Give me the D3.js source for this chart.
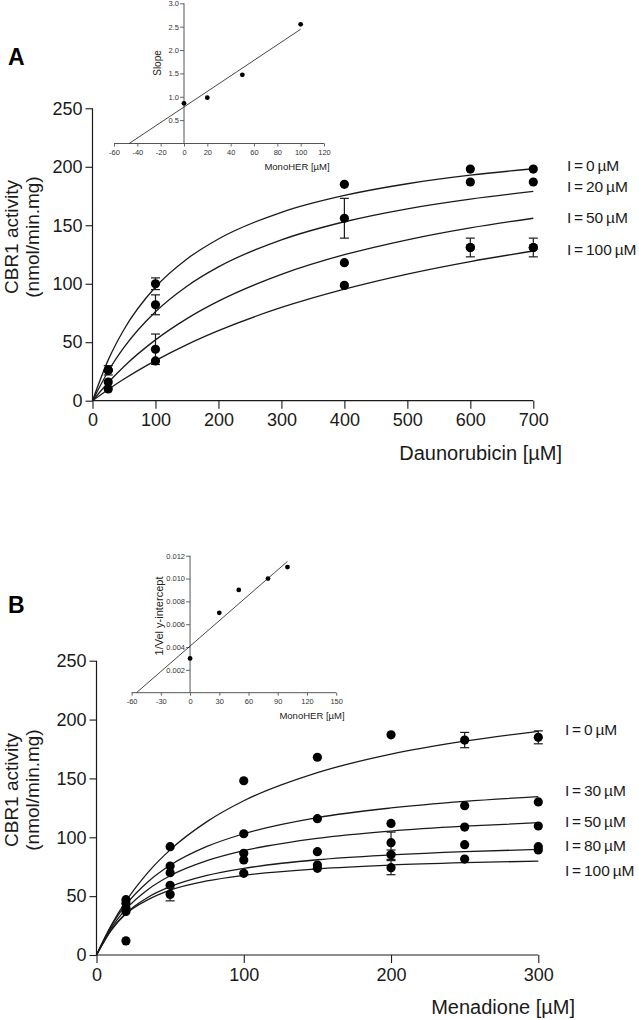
<!DOCTYPE html>
<html>
<head>
<meta charset="utf-8">
<script src="https://cdn.jsdelivr.net/npm/d3@7"></script>
<style>
  html, body { margin: 0; padding: 0; background: #fff; }
  svg { display: block; font-family: "Liberation Sans", Arial, sans-serif; }
</style>
</head>
<body>
<svg id="chart" width="639" height="1020"></svg>
<script>
// ---------------- Panel A data (Daunorubicin) ----------------
const aConc = [25, 100, 400, 600, 700];
const aLabels = ["I = 0 \u00b5M", "I = 20 \u00b5M", "I = 50 \u00b5M", "I = 100 \u00b5M"];
const aI0   = [26, 100, 185, 198, 198];
const aI20  = [26, 82, 156, 187, 187];
const aI50  = [16, 44, 118, 131, 131];
const aI100 = [10, 34, 98.6, 131, 131];
const aErrI0   = [4, 5, 0, 0, 0];
const aErrI20  = [0, 8.5, 17, 0, 0];
const aErrI50  = [0, 13, 0, 0, 0];
const aErrI100 = [0, 0, 0, 8, 8];
// fitted curves
const aCurveX    = [0, 25, 50, 100, 150, 200, 300, 400, 500, 600, 700];
const aCurveI0   = [0, 34.9, 60.9, 97.2, 121.2, 138.3, 161.1, 175.5, 185.5, 192.8, 198.3];
const aCurveI20  = [0, 25.2, 45.5, 76.0, 97.9, 114.4, 137.5, 153.0, 164.1, 172.4, 178.9];
const aCurveI50  = [0, 15.6, 29.3, 52.0, 70.2, 85.1, 108.0, 124.8, 137.6, 147.8, 156.0];
const aCurveI100 = [0, 9.6, 18.5, 34.3, 48.0, 59.9, 79.7, 95.4, 108.3, 119.0, 128.0];
const aXTicks = [0, 100, 200, 300, 400, 500, 600, 700];
const aYTicks = [0, 50, 100, 150, 200, 250];

// Inset A
const inAX = [0, 20, 50, 100];
const inAY = [0.86, 0.98, 1.47, 2.55];
const inAFitX = [-47, 100];
const inAFitY = [0, 2.445];
const inAXTicks = [-60, -40, -20, 0, 20, 40, 60, 80, 100, 120];
const inAYTicks = [0.5, 1.0, 1.5, 2.0, 2.5, 3.0];

// ---------------- Panel B data (Menadione) ----------------
const bConc = [20, 50, 100, 150, 200, 250, 300];
const bLabels = ["I = 0 \u00b5M", "I = 30 \u00b5M", "I = 50 \u00b5M", "I = 80 \u00b5M", "I = 100 \u00b5M"];
const bI0   = [47, 92, 148, 168, 187, 182.6, 184.9];
const bI30  = [44, 75.6, 103, 115.8, 111.8, 126.8, 130];
const bI50  = [40, 69.9, 86.4, 87.8, 95.4, 108.7, 109.6];
const bI80  = [37, 59.2, 80.7, 76.4, 85.2, 93.7, 92];
const bI100 = [12, 51.5, 69.4, 73.6, 74.2, 81.5, 89.2];
const bErrI0   = [0, 0, 0, 0, 0, 6.5, 5.5];
const bErrI30  = [0, 0, 0, 0, 0, 0, 0];
const bErrI50  = [0, 0, 0, 0, 9, 0, 0];
const bErrI80  = [0, 0, 0, 0, 4, 0, 0];
const bErrI100 = [0, 5.5, 0, 0, 6, 0, 0];
const bCurveX    = [0, 10, 20, 35, 50, 75, 100, 150, 200, 250, 300];
const bCurveI0   = [0, 25.2, 45.7, 70.2, 89.3, 113.3, 131.0, 154.9, 170.6, 181.6, 190.0];
const bCurveI30  = [0, 24.7, 42.8, 62.3, 76.2, 92.2, 103.0, 116.7, 124.9, 130.5, 134.5];
const bCurveI50  = [0, 23.0, 39.0, 55.7, 67.3, 80.1, 88.6, 99.1, 105.3, 109.4, 112.4];
const bCurveI80  = [0, 21.5, 35.5, 49.1, 58.0, 67.6, 73.6, 80.9, 85.0, 87.8, 89.7];
const bCurveI100 = [0, 21.0, 35.0, 47.0, 55.1, 62.9, 67.7, 73.2, 76.4, 78.4, 79.8];
const bXTicks = [0, 100, 200, 300];
const bYTicks = [0, 50, 100, 150, 200, 250];

// Inset B
const inBX = [0, 30, 50, 80, 100];
const inBY = [0.003, 0.007, 0.009, 0.010, 0.011];
const inBFitX = [-55, 100];
const inBFitY = [0, 0.0115];
const inBXTicks = [-60, -30, 0, 30, 60, 90, 120, 150];
const inBYTicks = [0.002, 0.004, 0.006, 0.008, 0.010, 0.012];

// ---------------- drawing ----------------
const svg = d3.select("#chart");
const INK = "#1a1a1a";
const plain = d => String(d);

function mainPanel(cfg) {
  const x = d3.scaleLinear().domain(cfg.xDomain).range(cfg.xRange);
  const y = d3.scaleLinear().domain(cfg.yDomain).range(cfg.yRange);
  const g = svg.append("g");

  const xAxis = g.append("g").attr("transform", `translate(0,${cfg.yRange[0]})`)
    .call(d3.axisBottom(x).tickValues(cfg.xTicks).tickSize(8).tickPadding(5).tickFormat(plain));
  const yAxis = g.append("g").attr("transform", `translate(${cfg.xRange[0]},0)`)
    .call(d3.axisLeft(y).tickValues(cfg.yTicks).tickSize(7).tickPadding(3).tickFormat(plain));
  [xAxis, yAxis].forEach(a => {
    a.select(".domain").attr("stroke", INK).attr("stroke-width", 1.2);
    a.selectAll(".tick line").attr("stroke", INK).attr("stroke-width", 1.1);
    a.selectAll(".tick text").attr("fill", INK).attr("font-size", 18)
      .attr("font-family", "Liberation Sans, Arial, sans-serif");
  });
  xAxis.select(".domain").attr("d", `M${cfg.xRange[0]},0H${cfg.xRange[1]}`);
  yAxis.select(".domain").attr("d", `M0,${cfg.yRange[0]}V${cfg.yRange[1]}`);

  const line = d3.line().x(d => x(d[0])).y(d => y(d[1])).curve(d3.curveMonotoneX);
  cfg.curves.forEach(c => {
    g.append("path").datum(cfg.curveX.map((v, i) => [v, c[i]]))
      .attr("d", line).attr("fill", "none").attr("stroke", INK).attr("stroke-width", 1.3);
  });

  cfg.series.forEach((s, si) => {
    const err = cfg.errors[si];
    const pts = cfg.conc.map((c, i) => ({ c, v: s[i], e: err[i] }));
    const eb = g.append("g").selectAll("g").data(pts.filter(p => p.e > 0)).join("g")
      .attr("stroke", INK).attr("stroke-width", 1.2);
    eb.append("line").attr("x1", p => x(p.c)).attr("x2", p => x(p.c))
      .attr("y1", p => y(p.v - p.e)).attr("y2", p => y(p.v + p.e));
    eb.append("line").attr("x1", p => x(p.c) - 4.5).attr("x2", p => x(p.c) + 4.5)
      .attr("y1", p => y(p.v + p.e)).attr("y2", p => y(p.v + p.e));
    eb.append("line").attr("x1", p => x(p.c) - 4.5).attr("x2", p => x(p.c) + 4.5)
      .attr("y1", p => y(p.v - p.e)).attr("y2", p => y(p.v - p.e));
    g.append("g").selectAll("circle").data(pts).join("circle")
      .attr("cx", p => x(p.c)).attr("cy", p => y(p.v)).attr("r", 4.6).attr("fill", "#000");
  });

  g.append("g").selectAll("text").data(cfg.labels).join("text")
    .attr("x", cfg.legendX).attr("y", (d, i) => cfg.legendY[i])
    .attr("dy", "0.35em").attr("font-size", 15.5).attr("word-spacing", -1.5)
    .attr("fill", INK).text(d => d);

  g.append("text").attr("x", cfg.xTitlePos[0]).attr("y", cfg.xTitlePos[1])
    .attr("text-anchor", "end").attr("font-size", 20).attr("fill", INK).text(cfg.xTitle);
  const yl = g.append("text").attr("transform", `translate(0,${cfg.yTitleY}) rotate(-90)`)
    .attr("text-anchor", "middle").attr("font-size", 19).attr("fill", INK);
  yl.append("tspan").attr("x", 0).attr("y", 18).text("CBR1 activity");
  yl.append("tspan").attr("x", 0).attr("y", 39).text("(nmol/min.mg)");

  g.append("text").attr("x", 8).attr("y", cfg.letterY).attr("font-size", 23)
    .attr("font-weight", "bold").attr("fill", "#000").text(cfg.letter);
}

function inset(cfg) {
  const x = d3.scaleLinear().domain(cfg.xDomain).range(cfg.xRange);
  const y = d3.scaleLinear().domain(cfg.yDomain).range(cfg.yRange);
  const g = svg.append("g");
  const xAxis = g.append("g").attr("transform", `translate(0,${cfg.yRange[0]})`)
    .call(d3.axisBottom(x).tickValues(cfg.xTicks).tickSize(3).tickPadding(3).tickFormat(plain));
  const yAxis = g.append("g").attr("transform", `translate(${x(0)},0)`)
    .call(d3.axisLeft(y).tickValues(cfg.yTicks).tickSize(4).tickPadding(1).tickFormat(cfg.yFmt));
  [xAxis, yAxis].forEach(a => {
    a.select(".domain").attr("stroke", "#555").attr("stroke-width", 1);
    a.selectAll(".tick line").attr("stroke", "#555").attr("stroke-width", 0.9);
    a.selectAll(".tick text").attr("fill", "#333").attr("font-size", 7.5)
      .attr("font-family", "Liberation Sans, Arial, sans-serif");
  });
  xAxis.select(".domain").attr("d", `M${cfg.xRange[0]},0H${cfg.xRange[1]}`);
  yAxis.select(".domain").attr("d", `M0,${cfg.yRange[0]}V${cfg.yRange[1]}`);

  g.append("line").attr("x1", x(cfg.fitX[0])).attr("y1", y(cfg.fitY[0]))
    .attr("x2", x(cfg.fitX[1])).attr("y2", y(cfg.fitY[1]))
    .attr("stroke", "#333").attr("stroke-width", 0.9);
  g.append("g").selectAll("circle").data(cfg.px.map((v, i) => [v, cfg.py[i]])).join("circle")
    .attr("cx", d => x(d[0])).attr("cy", d => y(d[1])).attr("r", 2.4).attr("fill", "#000");

  g.append("text").attr("x", cfg.xTitlePos[0]).attr("y", cfg.xTitlePos[1])
    .attr("text-anchor", "middle").attr("font-size", 9.5).attr("fill", "#222").text("MonoHER [\u00b5M]");
  g.append("text").attr("transform", `translate(${cfg.yTitlePos[0]},${cfg.yTitlePos[1]}) rotate(-90)`)
    .attr("text-anchor", "middle").attr("font-size", cfg.yTitleSize).attr("fill", "#222").text(cfg.yTitle);
}

mainPanel({
  xDomain: [0, 700], xRange: [92.5, 533.3], yDomain: [0, 250], yRange: [400.7, 108.3],
  xTicks: aXTicks, yTicks: aYTicks, conc: aConc,
  series: [aI0, aI20, aI50, aI100], errors: [aErrI0, aErrI20, aErrI50, aErrI100],
  curveX: aCurveX, curves: [aCurveI0, aCurveI20, aCurveI50, aCurveI100],
  labels: aLabels, legendX: 567, legendY: [166, 187, 218, 250],
  xTitle: "Daunorubicin [\u00b5M]", xTitlePos: [562, 460], yTitleY: 237,
  letter: "A", letterY: 65
});

inset({
  xDomain: [-60, 120], xRange: [114, 324], yDomain: [0, 3], yRange: [143.5, 3.3],
  xTicks: inAXTicks, yTicks: inAYTicks, yFmt: d3.format(".1f"),
  fitX: inAFitX, fitY: inAFitY, px: inAX, py: inAY,
  xTitlePos: [297, 170], yTitlePos: [161, 63], yTitle: "Slope", yTitleSize: 10
});

mainPanel({
  xDomain: [0, 300], xRange: [96.5, 538.3], yDomain: [0, 250], yRange: [955, 660.7],
  xTicks: bXTicks, yTicks: bYTicks, conc: bConc,
  series: [bI0, bI30, bI50, bI80, bI100], errors: [bErrI0, bErrI30, bErrI50, bErrI80, bErrI100],
  curveX: bCurveX, curves: [bCurveI0, bCurveI30, bCurveI50, bCurveI80, bCurveI100],
  labels: bLabels, legendX: 565, legendY: [730, 791, 822, 846, 871],
  xTitle: "Menadione [\u00b5M]", xTitlePos: [575, 1014], yTitleY: 790,
  letter: "B", letterY: 613
});

inset({
  xDomain: [-60, 150], xRange: [131.6, 336.2], yDomain: [0, 0.012], yRange: [692.7, 555.7],
  xTicks: inBXTicks, yTicks: inBYTicks, yFmt: d3.format(".3f"),
  fitX: inBFitX, fitY: inBFitY, px: inBX, py: inBY,
  xTitlePos: [312, 719], yTitlePos: [163, 616], yTitle: "1/Vel y-intercept", yTitleSize: 11
});
</script>
</body>
</html>
